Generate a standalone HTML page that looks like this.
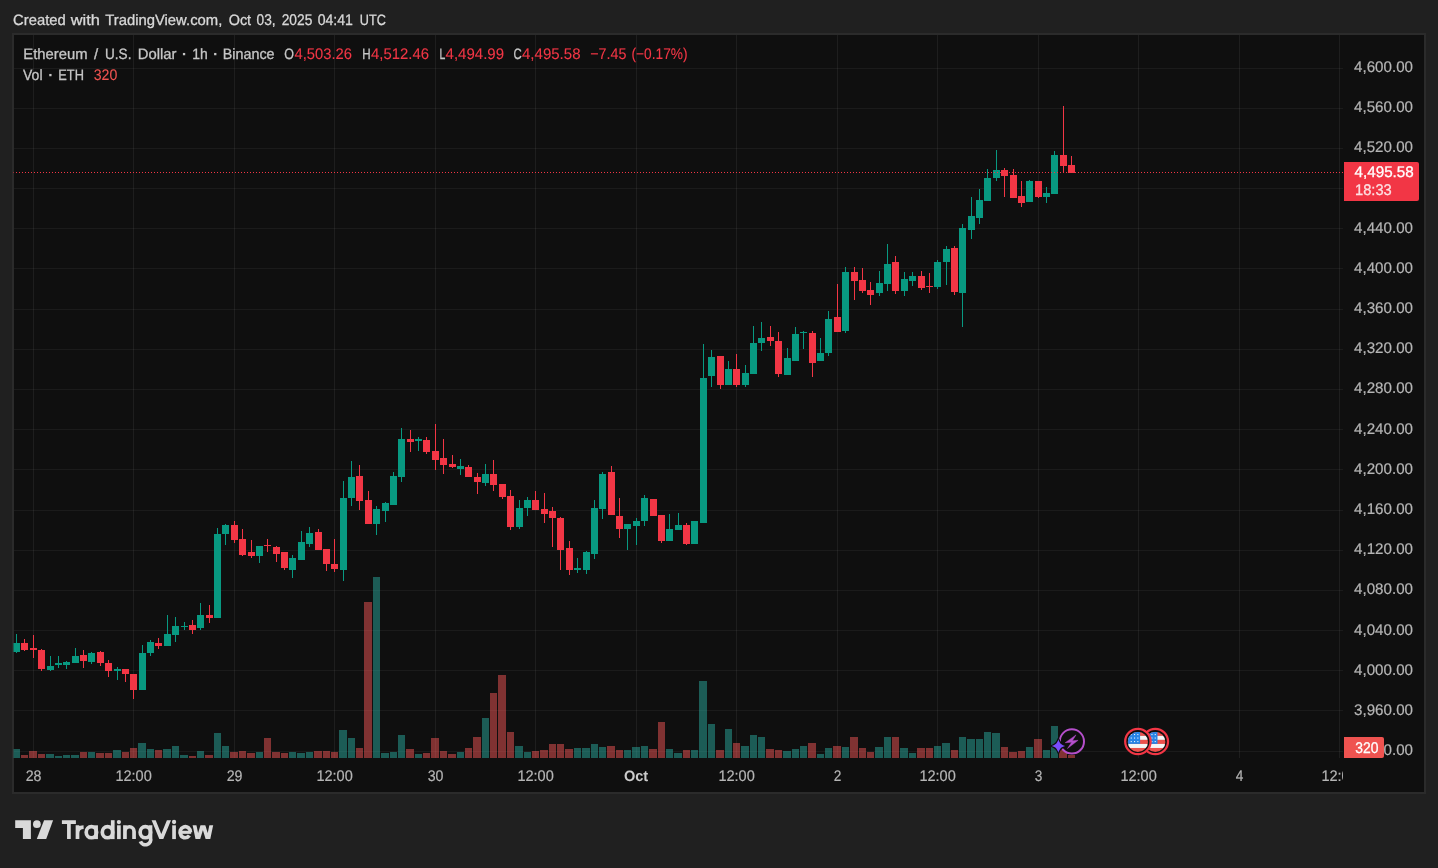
<!DOCTYPE html>
<html><head><meta charset="utf-8"><title>ETHUSD</title>
<style>html,body{margin:0;padding:0;background:#202020;overflow:hidden}svg{display:block}text{font-family:"Liberation Sans",sans-serif;font-size:15px;stroke-width:0.3px;text-rendering:geometricPrecision}</style>
</head><body>
<svg width="1438" height="868" viewBox="0 0 1438 868"><defs><filter id="ga" filterUnits="userSpaceOnUse" x="0" y="0" width="1438" height="868"><feOffset dx="0" dy="0"/></filter></defs>
<rect x="0" y="0" width="1438" height="868" fill="#202020"/>
<rect x="12" y="33" width="1414" height="761" fill="#2b2b2b"/>
<rect x="14" y="35" width="1410" height="757" fill="#0f0f0f"/>
<g shape-rendering="crispEdges">
<rect x="33" y="35" width="1" height="723" fill="rgba(255,255,255,0.063)"/>
<rect x="133" y="35" width="1" height="723" fill="rgba(255,255,255,0.063)"/>
<rect x="234" y="35" width="1" height="723" fill="rgba(255,255,255,0.063)"/>
<rect x="334" y="35" width="1" height="723" fill="rgba(255,255,255,0.063)"/>
<rect x="435" y="35" width="1" height="723" fill="rgba(255,255,255,0.063)"/>
<rect x="535" y="35" width="1" height="723" fill="rgba(255,255,255,0.063)"/>
<rect x="636" y="35" width="1" height="723" fill="rgba(255,255,255,0.063)"/>
<rect x="736" y="35" width="1" height="723" fill="rgba(255,255,255,0.063)"/>
<rect x="837" y="35" width="1" height="723" fill="rgba(255,255,255,0.063)"/>
<rect x="937" y="35" width="1" height="723" fill="rgba(255,255,255,0.063)"/>
<rect x="1038" y="35" width="1" height="723" fill="rgba(255,255,255,0.063)"/>
<rect x="1138" y="35" width="1" height="723" fill="rgba(255,255,255,0.063)"/>
<rect x="1239" y="35" width="1" height="723" fill="rgba(255,255,255,0.063)"/>
<rect x="1339" y="35" width="1" height="723" fill="rgba(255,255,255,0.063)"/>
<rect x="14" y="68" width="1329" height="1" fill="rgba(255,255,255,0.05)"/>
<rect x="14" y="108" width="1329" height="1" fill="rgba(255,255,255,0.05)"/>
<rect x="14" y="148" width="1329" height="1" fill="rgba(255,255,255,0.05)"/>
<rect x="14" y="188" width="1329" height="1" fill="rgba(255,255,255,0.05)"/>
<rect x="14" y="228" width="1329" height="1" fill="rgba(255,255,255,0.05)"/>
<rect x="14" y="268" width="1329" height="1" fill="rgba(255,255,255,0.05)"/>
<rect x="14" y="309" width="1329" height="1" fill="rgba(255,255,255,0.05)"/>
<rect x="14" y="349" width="1329" height="1" fill="rgba(255,255,255,0.05)"/>
<rect x="14" y="389" width="1329" height="1" fill="rgba(255,255,255,0.05)"/>
<rect x="14" y="429" width="1329" height="1" fill="rgba(255,255,255,0.05)"/>
<rect x="14" y="469" width="1329" height="1" fill="rgba(255,255,255,0.05)"/>
<rect x="14" y="510" width="1329" height="1" fill="rgba(255,255,255,0.05)"/>
<rect x="14" y="550" width="1329" height="1" fill="rgba(255,255,255,0.05)"/>
<rect x="14" y="590" width="1329" height="1" fill="rgba(255,255,255,0.05)"/>
<rect x="14" y="630" width="1329" height="1" fill="rgba(255,255,255,0.05)"/>
<rect x="14" y="670" width="1329" height="1" fill="rgba(255,255,255,0.05)"/>
<rect x="14" y="710" width="1329" height="1" fill="rgba(255,255,255,0.05)"/>
<rect x="14" y="751" width="1329" height="1" fill="rgba(255,255,255,0.05)"/>
</g>
<g shape-rendering="crispEdges">
<rect x="13" y="749" width="1" height="9" fill="rgba(41,169,157,0.5)" fill-opacity="0.5"/>
<rect x="14" y="749" width="6" height="9" fill="rgba(41,169,157,0.5)"/>
<rect x="21" y="755" width="7" height="3" fill="rgba(241,85,85,0.5)"/>
<rect x="29" y="751" width="8" height="7" fill="rgba(241,85,85,0.5)"/>
<rect x="38" y="754" width="7" height="4" fill="rgba(241,85,85,0.5)"/>
<rect x="46" y="754" width="8" height="4" fill="rgba(41,169,157,0.5)"/>
<rect x="55" y="756" width="7" height="2" fill="rgba(41,169,157,0.5)"/>
<rect x="63" y="755" width="7" height="3" fill="rgba(41,169,157,0.5)"/>
<rect x="71" y="755" width="8" height="3" fill="rgba(41,169,157,0.5)"/>
<rect x="80" y="752" width="7" height="6" fill="rgba(241,85,85,0.5)"/>
<rect x="88" y="752" width="7" height="6" fill="rgba(41,169,157,0.5)"/>
<rect x="96" y="753" width="8" height="5" fill="rgba(241,85,85,0.5)"/>
<rect x="105" y="753" width="7" height="5" fill="rgba(241,85,85,0.5)"/>
<rect x="113" y="750" width="8" height="8" fill="rgba(41,169,157,0.5)"/>
<rect x="122" y="752" width="7" height="6" fill="rgba(241,85,85,0.5)"/>
<rect x="130" y="748" width="7" height="10" fill="rgba(241,85,85,0.5)"/>
<rect x="138" y="743" width="8" height="15" fill="rgba(41,169,157,0.5)"/>
<rect x="147" y="749" width="7" height="9" fill="rgba(41,169,157,0.5)"/>
<rect x="155" y="750" width="7" height="8" fill="rgba(241,85,85,0.5)"/>
<rect x="163" y="749" width="8" height="9" fill="rgba(41,169,157,0.5)"/>
<rect x="172" y="746" width="7" height="12" fill="rgba(41,169,157,0.5)"/>
<rect x="180" y="755" width="8" height="3" fill="rgba(41,169,157,0.5)"/>
<rect x="189" y="756" width="7" height="2" fill="rgba(241,85,85,0.5)"/>
<rect x="197" y="751" width="7" height="7" fill="rgba(41,169,157,0.5)"/>
<rect x="205" y="755" width="8" height="3" fill="rgba(241,85,85,0.5)"/>
<rect x="214" y="733" width="7" height="25" fill="rgba(41,169,157,0.5)"/>
<rect x="222" y="746" width="7" height="12" fill="rgba(41,169,157,0.5)"/>
<rect x="230" y="752" width="8" height="6" fill="rgba(241,85,85,0.5)"/>
<rect x="239" y="751" width="7" height="7" fill="rgba(241,85,85,0.5)"/>
<rect x="247" y="753" width="8" height="5" fill="rgba(241,85,85,0.5)"/>
<rect x="256" y="752" width="7" height="6" fill="rgba(41,169,157,0.5)"/>
<rect x="264" y="738" width="7" height="20" fill="rgba(241,85,85,0.5)"/>
<rect x="272" y="752" width="8" height="6" fill="rgba(241,85,85,0.5)"/>
<rect x="281" y="753" width="7" height="5" fill="rgba(241,85,85,0.5)"/>
<rect x="289" y="752" width="7" height="6" fill="rgba(41,169,157,0.5)"/>
<rect x="297" y="753" width="8" height="5" fill="rgba(41,169,157,0.5)"/>
<rect x="306" y="752" width="7" height="6" fill="rgba(41,169,157,0.5)"/>
<rect x="314" y="751" width="8" height="7" fill="rgba(241,85,85,0.5)"/>
<rect x="323" y="751" width="7" height="7" fill="rgba(241,85,85,0.5)"/>
<rect x="331" y="752" width="7" height="6" fill="rgba(241,85,85,0.5)"/>
<rect x="339" y="730" width="8" height="28" fill="rgba(41,169,157,0.5)"/>
<rect x="348" y="738" width="7" height="20" fill="rgba(41,169,157,0.5)"/>
<rect x="356" y="748" width="7" height="10" fill="rgba(241,85,85,0.5)"/>
<rect x="364" y="602" width="8" height="156" fill="rgba(241,85,85,0.5)"/>
<rect x="373" y="577" width="7" height="181" fill="rgba(41,169,157,0.5)"/>
<rect x="381" y="753" width="8" height="5" fill="rgba(41,169,157,0.5)"/>
<rect x="390" y="752" width="7" height="6" fill="rgba(41,169,157,0.5)"/>
<rect x="398" y="735" width="7" height="23" fill="rgba(41,169,157,0.5)"/>
<rect x="406" y="749" width="8" height="9" fill="rgba(241,85,85,0.5)"/>
<rect x="415" y="754" width="7" height="4" fill="rgba(41,169,157,0.5)"/>
<rect x="423" y="753" width="7" height="5" fill="rgba(241,85,85,0.5)"/>
<rect x="431" y="738" width="8" height="20" fill="rgba(241,85,85,0.5)"/>
<rect x="440" y="751" width="7" height="7" fill="rgba(241,85,85,0.5)"/>
<rect x="448" y="754" width="8" height="4" fill="rgba(241,85,85,0.5)"/>
<rect x="457" y="752" width="7" height="6" fill="rgba(41,169,157,0.5)"/>
<rect x="465" y="748" width="7" height="10" fill="rgba(241,85,85,0.5)"/>
<rect x="473" y="737" width="8" height="21" fill="rgba(241,85,85,0.5)"/>
<rect x="482" y="718" width="7" height="40" fill="rgba(41,169,157,0.5)"/>
<rect x="490" y="693" width="7" height="65" fill="rgba(241,85,85,0.5)"/>
<rect x="498" y="675" width="8" height="83" fill="rgba(241,85,85,0.5)"/>
<rect x="507" y="732" width="7" height="26" fill="rgba(241,85,85,0.5)"/>
<rect x="515" y="746" width="8" height="12" fill="rgba(41,169,157,0.5)"/>
<rect x="524" y="752" width="7" height="6" fill="rgba(41,169,157,0.5)"/>
<rect x="532" y="751" width="7" height="7" fill="rgba(241,85,85,0.5)"/>
<rect x="540" y="750" width="8" height="8" fill="rgba(241,85,85,0.5)"/>
<rect x="549" y="744" width="7" height="14" fill="rgba(241,85,85,0.5)"/>
<rect x="557" y="744" width="7" height="14" fill="rgba(241,85,85,0.5)"/>
<rect x="565" y="749" width="8" height="9" fill="rgba(241,85,85,0.5)"/>
<rect x="574" y="748" width="7" height="10" fill="rgba(41,169,157,0.5)"/>
<rect x="582" y="748" width="8" height="10" fill="rgba(41,169,157,0.5)"/>
<rect x="591" y="744" width="7" height="14" fill="rgba(41,169,157,0.5)"/>
<rect x="599" y="747" width="7" height="11" fill="rgba(41,169,157,0.5)"/>
<rect x="607" y="746" width="8" height="12" fill="rgba(241,85,85,0.5)"/>
<rect x="616" y="750" width="7" height="8" fill="rgba(241,85,85,0.5)"/>
<rect x="624" y="750" width="7" height="8" fill="rgba(41,169,157,0.5)"/>
<rect x="632" y="747" width="8" height="11" fill="rgba(41,169,157,0.5)"/>
<rect x="641" y="746" width="7" height="12" fill="rgba(41,169,157,0.5)"/>
<rect x="649" y="749" width="8" height="9" fill="rgba(241,85,85,0.5)"/>
<rect x="658" y="722" width="7" height="36" fill="rgba(241,85,85,0.5)"/>
<rect x="666" y="749" width="7" height="9" fill="rgba(41,169,157,0.5)"/>
<rect x="674" y="753" width="8" height="5" fill="rgba(41,169,157,0.5)"/>
<rect x="683" y="750" width="7" height="8" fill="rgba(241,85,85,0.5)"/>
<rect x="691" y="750" width="7" height="8" fill="rgba(41,169,157,0.5)"/>
<rect x="699" y="681" width="8" height="77" fill="rgba(41,169,157,0.5)"/>
<rect x="708" y="724" width="7" height="34" fill="rgba(41,169,157,0.5)"/>
<rect x="716" y="750" width="8" height="8" fill="rgba(241,85,85,0.5)"/>
<rect x="725" y="729" width="7" height="29" fill="rgba(41,169,157,0.5)"/>
<rect x="733" y="743" width="7" height="15" fill="rgba(241,85,85,0.5)"/>
<rect x="741" y="746" width="8" height="12" fill="rgba(41,169,157,0.5)"/>
<rect x="750" y="735" width="7" height="23" fill="rgba(41,169,157,0.5)"/>
<rect x="758" y="737" width="7" height="21" fill="rgba(41,169,157,0.5)"/>
<rect x="766" y="749" width="8" height="9" fill="rgba(241,85,85,0.5)"/>
<rect x="775" y="750" width="7" height="8" fill="rgba(241,85,85,0.5)"/>
<rect x="783" y="751" width="8" height="7" fill="rgba(41,169,157,0.5)"/>
<rect x="792" y="749" width="7" height="9" fill="rgba(41,169,157,0.5)"/>
<rect x="800" y="746" width="7" height="12" fill="rgba(41,169,157,0.5)"/>
<rect x="808" y="743" width="8" height="15" fill="rgba(241,85,85,0.5)"/>
<rect x="817" y="754" width="7" height="4" fill="rgba(41,169,157,0.5)"/>
<rect x="825" y="748" width="7" height="10" fill="rgba(41,169,157,0.5)"/>
<rect x="833" y="746" width="8" height="12" fill="rgba(241,85,85,0.5)"/>
<rect x="842" y="747" width="7" height="11" fill="rgba(41,169,157,0.5)"/>
<rect x="850" y="737" width="8" height="21" fill="rgba(241,85,85,0.5)"/>
<rect x="859" y="748" width="7" height="10" fill="rgba(241,85,85,0.5)"/>
<rect x="867" y="752" width="7" height="6" fill="rgba(241,85,85,0.5)"/>
<rect x="875" y="747" width="8" height="11" fill="rgba(41,169,157,0.5)"/>
<rect x="884" y="737" width="7" height="21" fill="rgba(41,169,157,0.5)"/>
<rect x="892" y="737" width="7" height="21" fill="rgba(241,85,85,0.5)"/>
<rect x="900" y="748" width="8" height="10" fill="rgba(41,169,157,0.5)"/>
<rect x="909" y="753" width="7" height="5" fill="rgba(41,169,157,0.5)"/>
<rect x="917" y="748" width="8" height="10" fill="rgba(241,85,85,0.5)"/>
<rect x="926" y="748" width="7" height="10" fill="rgba(241,85,85,0.5)"/>
<rect x="934" y="746" width="7" height="12" fill="rgba(41,169,157,0.5)"/>
<rect x="942" y="743" width="8" height="15" fill="rgba(41,169,157,0.5)"/>
<rect x="951" y="750" width="7" height="8" fill="rgba(241,85,85,0.5)"/>
<rect x="959" y="737" width="7" height="21" fill="rgba(41,169,157,0.5)"/>
<rect x="967" y="739" width="8" height="19" fill="rgba(41,169,157,0.5)"/>
<rect x="976" y="739" width="7" height="19" fill="rgba(41,169,157,0.5)"/>
<rect x="984" y="732" width="7" height="26" fill="rgba(41,169,157,0.5)"/>
<rect x="992" y="733" width="8" height="25" fill="rgba(41,169,157,0.5)"/>
<rect x="1001" y="747" width="7" height="11" fill="rgba(241,85,85,0.5)"/>
<rect x="1009" y="752" width="8" height="6" fill="rgba(241,85,85,0.5)"/>
<rect x="1018" y="751" width="7" height="7" fill="rgba(241,85,85,0.5)"/>
<rect x="1026" y="747" width="7" height="11" fill="rgba(41,169,157,0.5)"/>
<rect x="1034" y="739" width="8" height="19" fill="rgba(241,85,85,0.5)"/>
<rect x="1043" y="750" width="7" height="8" fill="rgba(41,169,157,0.5)"/>
<rect x="1051" y="726" width="7" height="32" fill="rgba(41,169,157,0.5)"/>
<rect x="1059" y="750" width="8" height="8" fill="rgba(241,85,85,0.5)"/>
<rect x="1068" y="755" width="7" height="3" fill="rgba(241,85,85,0.5)"/>
</g>
<g shape-rendering="crispEdges">
<rect x="16" y="634" width="1" height="19" fill="#089981"/>
<rect x="13" y="643" width="1" height="9" fill="#089981" fill-opacity="0.5"/>
<rect x="14" y="643" width="6" height="9" fill="#089981"/>
<rect x="24" y="639" width="1" height="12" fill="#f23645"/>
<rect x="21" y="643" width="7" height="7" fill="#f23645"/>
<rect x="33" y="635" width="1" height="23" fill="#f23645"/>
<rect x="30" y="648" width="7" height="2" fill="#f23645"/>
<rect x="41" y="649" width="1" height="22" fill="#f23645"/>
<rect x="38" y="650" width="7" height="19" fill="#f23645"/>
<rect x="50" y="656" width="1" height="15" fill="#089981"/>
<rect x="47" y="666" width="7" height="4" fill="#089981"/>
<rect x="58" y="656" width="1" height="12" fill="#089981"/>
<rect x="55" y="663" width="7" height="2" fill="#089981"/>
<rect x="66" y="661" width="1" height="8" fill="#089981"/>
<rect x="63" y="662" width="7" height="3" fill="#089981"/>
<rect x="75" y="648" width="1" height="15" fill="#089981"/>
<rect x="72" y="656" width="7" height="7" fill="#089981"/>
<rect x="83" y="650" width="1" height="18" fill="#f23645"/>
<rect x="80" y="655" width="7" height="6" fill="#f23645"/>
<rect x="91" y="652" width="1" height="12" fill="#089981"/>
<rect x="88" y="653" width="7" height="9" fill="#089981"/>
<rect x="100" y="651" width="1" height="15" fill="#f23645"/>
<rect x="97" y="652" width="7" height="11" fill="#f23645"/>
<rect x="108" y="660" width="1" height="17" fill="#f23645"/>
<rect x="105" y="663" width="7" height="8" fill="#f23645"/>
<rect x="117" y="667" width="1" height="13" fill="#089981"/>
<rect x="114" y="669" width="7" height="2" fill="#089981"/>
<rect x="125" y="669" width="1" height="13" fill="#f23645"/>
<rect x="122" y="669" width="7" height="5" fill="#f23645"/>
<rect x="133" y="674" width="1" height="25" fill="#f23645"/>
<rect x="130" y="674" width="7" height="16" fill="#f23645"/>
<rect x="142" y="645" width="1" height="45" fill="#089981"/>
<rect x="139" y="653" width="7" height="37" fill="#089981"/>
<rect x="150" y="640" width="1" height="16" fill="#089981"/>
<rect x="147" y="642" width="7" height="11" fill="#089981"/>
<rect x="158" y="638" width="1" height="11" fill="#f23645"/>
<rect x="155" y="643" width="7" height="3" fill="#f23645"/>
<rect x="167" y="615" width="1" height="31" fill="#089981"/>
<rect x="164" y="634" width="7" height="12" fill="#089981"/>
<rect x="175" y="617" width="1" height="25" fill="#089981"/>
<rect x="172" y="626" width="7" height="9" fill="#089981"/>
<rect x="184" y="622" width="1" height="8" fill="#089981"/>
<rect x="181" y="626" width="7" height="1" fill="#089981"/>
<rect x="192" y="620" width="1" height="14" fill="#f23645"/>
<rect x="189" y="625" width="7" height="5" fill="#f23645"/>
<rect x="200" y="603" width="1" height="27" fill="#089981"/>
<rect x="197" y="615" width="7" height="13" fill="#089981"/>
<rect x="209" y="605" width="1" height="18" fill="#f23645"/>
<rect x="206" y="615" width="7" height="3" fill="#f23645"/>
<rect x="217" y="528" width="1" height="90" fill="#089981"/>
<rect x="214" y="534" width="7" height="84" fill="#089981"/>
<rect x="225" y="524" width="1" height="21" fill="#089981"/>
<rect x="222" y="525" width="7" height="9" fill="#089981"/>
<rect x="234" y="521" width="1" height="22" fill="#f23645"/>
<rect x="231" y="525" width="7" height="15" fill="#f23645"/>
<rect x="242" y="529" width="1" height="27" fill="#f23645"/>
<rect x="239" y="539" width="7" height="16" fill="#f23645"/>
<rect x="251" y="540" width="1" height="18" fill="#f23645"/>
<rect x="248" y="552" width="7" height="4" fill="#f23645"/>
<rect x="259" y="546" width="1" height="17" fill="#089981"/>
<rect x="256" y="546" width="7" height="10" fill="#089981"/>
<rect x="267" y="539" width="1" height="13" fill="#f23645"/>
<rect x="264" y="545" width="7" height="1" fill="#f23645"/>
<rect x="276" y="546" width="1" height="16" fill="#f23645"/>
<rect x="273" y="547" width="7" height="7" fill="#f23645"/>
<rect x="284" y="552" width="1" height="18" fill="#f23645"/>
<rect x="281" y="552" width="7" height="16" fill="#f23645"/>
<rect x="292" y="555" width="1" height="23" fill="#089981"/>
<rect x="289" y="558" width="7" height="12" fill="#089981"/>
<rect x="301" y="531" width="1" height="29" fill="#089981"/>
<rect x="298" y="542" width="7" height="18" fill="#089981"/>
<rect x="309" y="527" width="1" height="20" fill="#089981"/>
<rect x="306" y="533" width="7" height="11" fill="#089981"/>
<rect x="318" y="529" width="1" height="21" fill="#f23645"/>
<rect x="315" y="532" width="7" height="18" fill="#f23645"/>
<rect x="326" y="549" width="1" height="22" fill="#f23645"/>
<rect x="323" y="549" width="7" height="15" fill="#f23645"/>
<rect x="334" y="539" width="1" height="33" fill="#f23645"/>
<rect x="331" y="564" width="7" height="5" fill="#f23645"/>
<rect x="343" y="481" width="1" height="100" fill="#089981"/>
<rect x="340" y="498" width="7" height="72" fill="#089981"/>
<rect x="351" y="461" width="1" height="45" fill="#089981"/>
<rect x="348" y="477" width="7" height="21" fill="#089981"/>
<rect x="359" y="465" width="1" height="45" fill="#f23645"/>
<rect x="356" y="476" width="7" height="25" fill="#f23645"/>
<rect x="368" y="491" width="1" height="33" fill="#f23645"/>
<rect x="365" y="500" width="7" height="24" fill="#f23645"/>
<rect x="376" y="506" width="1" height="29" fill="#089981"/>
<rect x="373" y="509" width="7" height="15" fill="#089981"/>
<rect x="385" y="502" width="1" height="20" fill="#089981"/>
<rect x="382" y="503" width="7" height="8" fill="#089981"/>
<rect x="393" y="472" width="1" height="33" fill="#089981"/>
<rect x="390" y="476" width="7" height="29" fill="#089981"/>
<rect x="401" y="428" width="1" height="54" fill="#089981"/>
<rect x="398" y="439" width="7" height="38" fill="#089981"/>
<rect x="410" y="430" width="1" height="22" fill="#f23645"/>
<rect x="407" y="439" width="7" height="3" fill="#f23645"/>
<rect x="418" y="437" width="1" height="14" fill="#089981"/>
<rect x="415" y="439" width="7" height="2" fill="#089981"/>
<rect x="426" y="437" width="1" height="17" fill="#f23645"/>
<rect x="423" y="440" width="7" height="12" fill="#f23645"/>
<rect x="435" y="424" width="1" height="46" fill="#f23645"/>
<rect x="432" y="451" width="7" height="9" fill="#f23645"/>
<rect x="443" y="439" width="1" height="35" fill="#f23645"/>
<rect x="440" y="458" width="7" height="7" fill="#f23645"/>
<rect x="452" y="455" width="1" height="13" fill="#f23645"/>
<rect x="449" y="464" width="7" height="3" fill="#f23645"/>
<rect x="460" y="459" width="1" height="16" fill="#089981"/>
<rect x="457" y="466" width="7" height="3" fill="#089981"/>
<rect x="468" y="465" width="1" height="12" fill="#f23645"/>
<rect x="465" y="467" width="7" height="10" fill="#f23645"/>
<rect x="477" y="473" width="1" height="21" fill="#f23645"/>
<rect x="474" y="477" width="7" height="5" fill="#f23645"/>
<rect x="485" y="464" width="1" height="22" fill="#089981"/>
<rect x="482" y="474" width="7" height="9" fill="#089981"/>
<rect x="493" y="460" width="1" height="31" fill="#f23645"/>
<rect x="490" y="474" width="7" height="11" fill="#f23645"/>
<rect x="502" y="484" width="1" height="15" fill="#f23645"/>
<rect x="499" y="484" width="7" height="13" fill="#f23645"/>
<rect x="510" y="490" width="1" height="40" fill="#f23645"/>
<rect x="507" y="496" width="7" height="31" fill="#f23645"/>
<rect x="519" y="500" width="1" height="29" fill="#089981"/>
<rect x="516" y="508" width="7" height="19" fill="#089981"/>
<rect x="527" y="497" width="1" height="19" fill="#089981"/>
<rect x="524" y="500" width="7" height="8" fill="#089981"/>
<rect x="535" y="491" width="1" height="19" fill="#f23645"/>
<rect x="532" y="500" width="7" height="10" fill="#f23645"/>
<rect x="544" y="493" width="1" height="30" fill="#f23645"/>
<rect x="541" y="509" width="7" height="5" fill="#f23645"/>
<rect x="552" y="507" width="1" height="40" fill="#f23645"/>
<rect x="549" y="511" width="7" height="7" fill="#f23645"/>
<rect x="560" y="517" width="1" height="53" fill="#f23645"/>
<rect x="557" y="518" width="7" height="32" fill="#f23645"/>
<rect x="569" y="541" width="1" height="34" fill="#f23645"/>
<rect x="566" y="548" width="7" height="22" fill="#f23645"/>
<rect x="577" y="558" width="1" height="15" fill="#089981"/>
<rect x="574" y="568" width="7" height="2" fill="#089981"/>
<rect x="586" y="551" width="1" height="23" fill="#089981"/>
<rect x="583" y="552" width="7" height="18" fill="#089981"/>
<rect x="594" y="500" width="1" height="59" fill="#089981"/>
<rect x="591" y="508" width="7" height="46" fill="#089981"/>
<rect x="602" y="472" width="1" height="47" fill="#089981"/>
<rect x="599" y="474" width="7" height="35" fill="#089981"/>
<rect x="611" y="466" width="1" height="49" fill="#f23645"/>
<rect x="608" y="472" width="7" height="43" fill="#f23645"/>
<rect x="619" y="498" width="1" height="40" fill="#f23645"/>
<rect x="616" y="516" width="7" height="13" fill="#f23645"/>
<rect x="627" y="524" width="1" height="26" fill="#089981"/>
<rect x="624" y="524" width="7" height="5" fill="#089981"/>
<rect x="636" y="518" width="1" height="27" fill="#089981"/>
<rect x="633" y="521" width="7" height="5" fill="#089981"/>
<rect x="644" y="495" width="1" height="31" fill="#089981"/>
<rect x="641" y="498" width="7" height="23" fill="#089981"/>
<rect x="653" y="499" width="1" height="17" fill="#f23645"/>
<rect x="650" y="499" width="7" height="17" fill="#f23645"/>
<rect x="661" y="515" width="1" height="28" fill="#f23645"/>
<rect x="658" y="515" width="7" height="26" fill="#f23645"/>
<rect x="669" y="514" width="1" height="27" fill="#089981"/>
<rect x="666" y="529" width="7" height="12" fill="#089981"/>
<rect x="678" y="513" width="1" height="17" fill="#089981"/>
<rect x="675" y="525" width="7" height="5" fill="#089981"/>
<rect x="686" y="523" width="1" height="22" fill="#f23645"/>
<rect x="683" y="525" width="7" height="19" fill="#f23645"/>
<rect x="694" y="521" width="1" height="23" fill="#089981"/>
<rect x="691" y="521" width="7" height="23" fill="#089981"/>
<rect x="703" y="344" width="1" height="179" fill="#089981"/>
<rect x="700" y="378" width="7" height="145" fill="#089981"/>
<rect x="711" y="350" width="1" height="37" fill="#089981"/>
<rect x="708" y="357" width="7" height="19" fill="#089981"/>
<rect x="720" y="356" width="1" height="33" fill="#f23645"/>
<rect x="717" y="356" width="7" height="29" fill="#f23645"/>
<rect x="728" y="361" width="1" height="24" fill="#089981"/>
<rect x="725" y="369" width="7" height="16" fill="#089981"/>
<rect x="736" y="354" width="1" height="33" fill="#f23645"/>
<rect x="733" y="369" width="7" height="16" fill="#f23645"/>
<rect x="745" y="365" width="1" height="22" fill="#089981"/>
<rect x="742" y="373" width="7" height="12" fill="#089981"/>
<rect x="753" y="326" width="1" height="48" fill="#089981"/>
<rect x="750" y="343" width="7" height="31" fill="#089981"/>
<rect x="761" y="322" width="1" height="29" fill="#089981"/>
<rect x="758" y="338" width="7" height="5" fill="#089981"/>
<rect x="770" y="326" width="1" height="20" fill="#f23645"/>
<rect x="767" y="337" width="7" height="4" fill="#f23645"/>
<rect x="778" y="332" width="1" height="45" fill="#f23645"/>
<rect x="775" y="341" width="7" height="33" fill="#f23645"/>
<rect x="787" y="348" width="1" height="27" fill="#089981"/>
<rect x="784" y="358" width="7" height="17" fill="#089981"/>
<rect x="795" y="327" width="1" height="34" fill="#089981"/>
<rect x="792" y="334" width="7" height="27" fill="#089981"/>
<rect x="803" y="331" width="1" height="18" fill="#089981"/>
<rect x="800" y="332" width="7" height="1" fill="#089981"/>
<rect x="812" y="331" width="1" height="46" fill="#f23645"/>
<rect x="809" y="333" width="7" height="30" fill="#f23645"/>
<rect x="820" y="338" width="1" height="23" fill="#089981"/>
<rect x="817" y="353" width="7" height="8" fill="#089981"/>
<rect x="828" y="311" width="1" height="45" fill="#089981"/>
<rect x="825" y="319" width="7" height="34" fill="#089981"/>
<rect x="837" y="284" width="1" height="48" fill="#f23645"/>
<rect x="834" y="317" width="7" height="15" fill="#f23645"/>
<rect x="845" y="267" width="1" height="66" fill="#089981"/>
<rect x="842" y="272" width="7" height="59" fill="#089981"/>
<rect x="854" y="267" width="1" height="33" fill="#f23645"/>
<rect x="851" y="272" width="7" height="9" fill="#f23645"/>
<rect x="862" y="268" width="1" height="25" fill="#f23645"/>
<rect x="859" y="280" width="7" height="11" fill="#f23645"/>
<rect x="870" y="282" width="1" height="23" fill="#f23645"/>
<rect x="867" y="290" width="7" height="5" fill="#f23645"/>
<rect x="879" y="271" width="1" height="25" fill="#089981"/>
<rect x="876" y="283" width="7" height="10" fill="#089981"/>
<rect x="887" y="244" width="1" height="47" fill="#089981"/>
<rect x="884" y="264" width="7" height="20" fill="#089981"/>
<rect x="895" y="256" width="1" height="38" fill="#f23645"/>
<rect x="892" y="262" width="7" height="29" fill="#f23645"/>
<rect x="904" y="272" width="1" height="24" fill="#089981"/>
<rect x="901" y="279" width="7" height="12" fill="#089981"/>
<rect x="912" y="272" width="1" height="14" fill="#089981"/>
<rect x="909" y="276" width="7" height="5" fill="#089981"/>
<rect x="921" y="271" width="1" height="19" fill="#f23645"/>
<rect x="918" y="276" width="7" height="12" fill="#f23645"/>
<rect x="929" y="273" width="1" height="20" fill="#f23645"/>
<rect x="926" y="286" width="7" height="1" fill="#f23645"/>
<rect x="937" y="260" width="1" height="29" fill="#089981"/>
<rect x="934" y="262" width="7" height="25" fill="#089981"/>
<rect x="946" y="246" width="1" height="39" fill="#089981"/>
<rect x="943" y="249" width="7" height="13" fill="#089981"/>
<rect x="954" y="246" width="1" height="49" fill="#f23645"/>
<rect x="951" y="248" width="7" height="44" fill="#f23645"/>
<rect x="962" y="224" width="1" height="103" fill="#089981"/>
<rect x="959" y="228" width="7" height="65" fill="#089981"/>
<rect x="971" y="197" width="1" height="42" fill="#089981"/>
<rect x="968" y="216" width="7" height="14" fill="#089981"/>
<rect x="979" y="189" width="1" height="35" fill="#089981"/>
<rect x="976" y="200" width="7" height="18" fill="#089981"/>
<rect x="987" y="169" width="1" height="32" fill="#089981"/>
<rect x="984" y="178" width="7" height="23" fill="#089981"/>
<rect x="996" y="150" width="1" height="31" fill="#089981"/>
<rect x="993" y="170" width="7" height="8" fill="#089981"/>
<rect x="1004" y="168" width="1" height="29" fill="#f23645"/>
<rect x="1001" y="170" width="7" height="6" fill="#f23645"/>
<rect x="1013" y="169" width="1" height="29" fill="#f23645"/>
<rect x="1010" y="175" width="7" height="23" fill="#f23645"/>
<rect x="1021" y="181" width="1" height="26" fill="#f23645"/>
<rect x="1018" y="196" width="7" height="7" fill="#f23645"/>
<rect x="1029" y="180" width="1" height="22" fill="#089981"/>
<rect x="1026" y="181" width="7" height="21" fill="#089981"/>
<rect x="1038" y="181" width="1" height="17" fill="#f23645"/>
<rect x="1035" y="181" width="7" height="16" fill="#f23645"/>
<rect x="1046" y="187" width="1" height="16" fill="#089981"/>
<rect x="1043" y="193" width="7" height="4" fill="#089981"/>
<rect x="1054" y="151" width="1" height="43" fill="#089981"/>
<rect x="1051" y="155" width="7" height="39" fill="#089981"/>
<rect x="1063" y="106" width="1" height="67" fill="#f23645"/>
<rect x="1060" y="155" width="7" height="11" fill="#f23645"/>
<rect x="1071" y="156" width="1" height="17" fill="#f23645"/>
<rect x="1068" y="165" width="7" height="8" fill="#f23645"/>
</g>
<g shape-rendering="crispEdges" fill="#f23645">
<path d="M16 172h1v1h-1zM19 172h1v1h-1zM22 172h1v1h-1zM25 172h1v1h-1zM28 172h1v1h-1zM31 172h1v1h-1zM34 172h1v1h-1zM37 172h1v1h-1zM40 172h1v1h-1zM43 172h1v1h-1zM46 172h1v1h-1zM49 172h1v1h-1zM52 172h1v1h-1zM55 172h1v1h-1zM58 172h1v1h-1zM61 172h1v1h-1zM64 172h1v1h-1zM67 172h1v1h-1zM70 172h1v1h-1zM73 172h1v1h-1zM76 172h1v1h-1zM79 172h1v1h-1zM82 172h1v1h-1zM85 172h1v1h-1zM88 172h1v1h-1zM91 172h1v1h-1zM94 172h1v1h-1zM97 172h1v1h-1zM100 172h1v1h-1zM103 172h1v1h-1zM106 172h1v1h-1zM109 172h1v1h-1zM112 172h1v1h-1zM115 172h1v1h-1zM118 172h1v1h-1zM121 172h1v1h-1zM124 172h1v1h-1zM127 172h1v1h-1zM130 172h1v1h-1zM133 172h1v1h-1zM136 172h1v1h-1zM139 172h1v1h-1zM142 172h1v1h-1zM145 172h1v1h-1zM148 172h1v1h-1zM151 172h1v1h-1zM154 172h1v1h-1zM157 172h1v1h-1zM160 172h1v1h-1zM163 172h1v1h-1zM166 172h1v1h-1zM169 172h1v1h-1zM172 172h1v1h-1zM175 172h1v1h-1zM178 172h1v1h-1zM181 172h1v1h-1zM184 172h1v1h-1zM187 172h1v1h-1zM190 172h1v1h-1zM193 172h1v1h-1zM196 172h1v1h-1zM199 172h1v1h-1zM202 172h1v1h-1zM205 172h1v1h-1zM208 172h1v1h-1zM211 172h1v1h-1zM214 172h1v1h-1zM217 172h1v1h-1zM220 172h1v1h-1zM223 172h1v1h-1zM226 172h1v1h-1zM229 172h1v1h-1zM232 172h1v1h-1zM235 172h1v1h-1zM238 172h1v1h-1zM241 172h1v1h-1zM244 172h1v1h-1zM247 172h1v1h-1zM250 172h1v1h-1zM253 172h1v1h-1zM256 172h1v1h-1zM259 172h1v1h-1zM262 172h1v1h-1zM265 172h1v1h-1zM268 172h1v1h-1zM271 172h1v1h-1zM274 172h1v1h-1zM277 172h1v1h-1zM280 172h1v1h-1zM283 172h1v1h-1zM286 172h1v1h-1zM289 172h1v1h-1zM292 172h1v1h-1zM295 172h1v1h-1zM298 172h1v1h-1zM301 172h1v1h-1zM304 172h1v1h-1zM307 172h1v1h-1zM310 172h1v1h-1zM313 172h1v1h-1zM316 172h1v1h-1zM319 172h1v1h-1zM322 172h1v1h-1zM325 172h1v1h-1zM328 172h1v1h-1zM331 172h1v1h-1zM334 172h1v1h-1zM337 172h1v1h-1zM340 172h1v1h-1zM343 172h1v1h-1zM346 172h1v1h-1zM349 172h1v1h-1zM352 172h1v1h-1zM355 172h1v1h-1zM358 172h1v1h-1zM361 172h1v1h-1zM364 172h1v1h-1zM367 172h1v1h-1zM370 172h1v1h-1zM373 172h1v1h-1zM376 172h1v1h-1zM379 172h1v1h-1zM382 172h1v1h-1zM385 172h1v1h-1zM388 172h1v1h-1zM391 172h1v1h-1zM394 172h1v1h-1zM397 172h1v1h-1zM400 172h1v1h-1zM403 172h1v1h-1zM406 172h1v1h-1zM409 172h1v1h-1zM412 172h1v1h-1zM415 172h1v1h-1zM418 172h1v1h-1zM421 172h1v1h-1zM424 172h1v1h-1zM427 172h1v1h-1zM430 172h1v1h-1zM433 172h1v1h-1zM436 172h1v1h-1zM439 172h1v1h-1zM442 172h1v1h-1zM445 172h1v1h-1zM448 172h1v1h-1zM451 172h1v1h-1zM454 172h1v1h-1zM457 172h1v1h-1zM460 172h1v1h-1zM463 172h1v1h-1zM466 172h1v1h-1zM469 172h1v1h-1zM472 172h1v1h-1zM475 172h1v1h-1zM478 172h1v1h-1zM481 172h1v1h-1zM484 172h1v1h-1zM487 172h1v1h-1zM490 172h1v1h-1zM493 172h1v1h-1zM496 172h1v1h-1zM499 172h1v1h-1zM502 172h1v1h-1zM505 172h1v1h-1zM508 172h1v1h-1zM511 172h1v1h-1zM514 172h1v1h-1zM517 172h1v1h-1zM520 172h1v1h-1zM523 172h1v1h-1zM526 172h1v1h-1zM529 172h1v1h-1zM532 172h1v1h-1zM535 172h1v1h-1zM538 172h1v1h-1zM541 172h1v1h-1zM544 172h1v1h-1zM547 172h1v1h-1zM550 172h1v1h-1zM553 172h1v1h-1zM556 172h1v1h-1zM559 172h1v1h-1zM562 172h1v1h-1zM565 172h1v1h-1zM568 172h1v1h-1zM571 172h1v1h-1zM574 172h1v1h-1zM577 172h1v1h-1zM580 172h1v1h-1zM583 172h1v1h-1zM586 172h1v1h-1zM589 172h1v1h-1zM592 172h1v1h-1zM595 172h1v1h-1zM598 172h1v1h-1zM601 172h1v1h-1zM604 172h1v1h-1zM607 172h1v1h-1zM610 172h1v1h-1zM613 172h1v1h-1zM616 172h1v1h-1zM619 172h1v1h-1zM622 172h1v1h-1zM625 172h1v1h-1zM628 172h1v1h-1zM631 172h1v1h-1zM634 172h1v1h-1zM637 172h1v1h-1zM640 172h1v1h-1zM643 172h1v1h-1zM646 172h1v1h-1zM649 172h1v1h-1zM652 172h1v1h-1zM655 172h1v1h-1zM658 172h1v1h-1zM661 172h1v1h-1zM664 172h1v1h-1zM667 172h1v1h-1zM670 172h1v1h-1zM673 172h1v1h-1zM676 172h1v1h-1zM679 172h1v1h-1zM682 172h1v1h-1zM685 172h1v1h-1zM688 172h1v1h-1zM691 172h1v1h-1zM694 172h1v1h-1zM697 172h1v1h-1zM700 172h1v1h-1zM703 172h1v1h-1zM706 172h1v1h-1zM709 172h1v1h-1zM712 172h1v1h-1zM715 172h1v1h-1zM718 172h1v1h-1zM721 172h1v1h-1zM724 172h1v1h-1zM727 172h1v1h-1zM730 172h1v1h-1zM733 172h1v1h-1zM736 172h1v1h-1zM739 172h1v1h-1zM742 172h1v1h-1zM745 172h1v1h-1zM748 172h1v1h-1zM751 172h1v1h-1zM754 172h1v1h-1zM757 172h1v1h-1zM760 172h1v1h-1zM763 172h1v1h-1zM766 172h1v1h-1zM769 172h1v1h-1zM772 172h1v1h-1zM775 172h1v1h-1zM778 172h1v1h-1zM781 172h1v1h-1zM784 172h1v1h-1zM787 172h1v1h-1zM790 172h1v1h-1zM793 172h1v1h-1zM796 172h1v1h-1zM799 172h1v1h-1zM802 172h1v1h-1zM805 172h1v1h-1zM808 172h1v1h-1zM811 172h1v1h-1zM814 172h1v1h-1zM817 172h1v1h-1zM820 172h1v1h-1zM823 172h1v1h-1zM826 172h1v1h-1zM829 172h1v1h-1zM832 172h1v1h-1zM835 172h1v1h-1zM838 172h1v1h-1zM841 172h1v1h-1zM844 172h1v1h-1zM847 172h1v1h-1zM850 172h1v1h-1zM853 172h1v1h-1zM856 172h1v1h-1zM859 172h1v1h-1zM862 172h1v1h-1zM865 172h1v1h-1zM868 172h1v1h-1zM871 172h1v1h-1zM874 172h1v1h-1zM877 172h1v1h-1zM880 172h1v1h-1zM883 172h1v1h-1zM886 172h1v1h-1zM889 172h1v1h-1zM892 172h1v1h-1zM895 172h1v1h-1zM898 172h1v1h-1zM901 172h1v1h-1zM904 172h1v1h-1zM907 172h1v1h-1zM910 172h1v1h-1zM913 172h1v1h-1zM916 172h1v1h-1zM919 172h1v1h-1zM922 172h1v1h-1zM925 172h1v1h-1zM928 172h1v1h-1zM931 172h1v1h-1zM934 172h1v1h-1zM937 172h1v1h-1zM940 172h1v1h-1zM943 172h1v1h-1zM946 172h1v1h-1zM949 172h1v1h-1zM952 172h1v1h-1zM955 172h1v1h-1zM958 172h1v1h-1zM961 172h1v1h-1zM964 172h1v1h-1zM967 172h1v1h-1zM970 172h1v1h-1zM973 172h1v1h-1zM976 172h1v1h-1zM979 172h1v1h-1zM982 172h1v1h-1zM985 172h1v1h-1zM988 172h1v1h-1zM991 172h1v1h-1zM994 172h1v1h-1zM997 172h1v1h-1zM1000 172h1v1h-1zM1003 172h1v1h-1zM1006 172h1v1h-1zM1009 172h1v1h-1zM1012 172h1v1h-1zM1015 172h1v1h-1zM1018 172h1v1h-1zM1021 172h1v1h-1zM1024 172h1v1h-1zM1027 172h1v1h-1zM1030 172h1v1h-1zM1033 172h1v1h-1zM1036 172h1v1h-1zM1039 172h1v1h-1zM1042 172h1v1h-1zM1045 172h1v1h-1zM1048 172h1v1h-1zM1051 172h1v1h-1zM1054 172h1v1h-1zM1057 172h1v1h-1zM1060 172h1v1h-1zM1063 172h1v1h-1zM1066 172h1v1h-1zM1069 172h1v1h-1zM1072 172h1v1h-1zM1075 172h1v1h-1zM1078 172h1v1h-1zM1081 172h1v1h-1zM1084 172h1v1h-1zM1087 172h1v1h-1zM1090 172h1v1h-1zM1093 172h1v1h-1zM1096 172h1v1h-1zM1099 172h1v1h-1zM1102 172h1v1h-1zM1105 172h1v1h-1zM1108 172h1v1h-1zM1111 172h1v1h-1zM1114 172h1v1h-1zM1117 172h1v1h-1zM1120 172h1v1h-1zM1123 172h1v1h-1zM1126 172h1v1h-1zM1129 172h1v1h-1zM1132 172h1v1h-1zM1135 172h1v1h-1zM1138 172h1v1h-1zM1141 172h1v1h-1zM1144 172h1v1h-1zM1147 172h1v1h-1zM1150 172h1v1h-1zM1153 172h1v1h-1zM1156 172h1v1h-1zM1159 172h1v1h-1zM1162 172h1v1h-1zM1165 172h1v1h-1zM1168 172h1v1h-1zM1171 172h1v1h-1zM1174 172h1v1h-1zM1177 172h1v1h-1zM1180 172h1v1h-1zM1183 172h1v1h-1zM1186 172h1v1h-1zM1189 172h1v1h-1zM1192 172h1v1h-1zM1195 172h1v1h-1zM1198 172h1v1h-1zM1201 172h1v1h-1zM1204 172h1v1h-1zM1207 172h1v1h-1zM1210 172h1v1h-1zM1213 172h1v1h-1zM1216 172h1v1h-1zM1219 172h1v1h-1zM1222 172h1v1h-1zM1225 172h1v1h-1zM1228 172h1v1h-1zM1231 172h1v1h-1zM1234 172h1v1h-1zM1237 172h1v1h-1zM1240 172h1v1h-1zM1243 172h1v1h-1zM1246 172h1v1h-1zM1249 172h1v1h-1zM1252 172h1v1h-1zM1255 172h1v1h-1zM1258 172h1v1h-1zM1261 172h1v1h-1zM1264 172h1v1h-1zM1267 172h1v1h-1zM1270 172h1v1h-1zM1273 172h1v1h-1zM1276 172h1v1h-1zM1279 172h1v1h-1zM1282 172h1v1h-1zM1285 172h1v1h-1zM1288 172h1v1h-1zM1291 172h1v1h-1zM1294 172h1v1h-1zM1297 172h1v1h-1zM1300 172h1v1h-1zM1303 172h1v1h-1zM1306 172h1v1h-1zM1309 172h1v1h-1zM1312 172h1v1h-1zM1315 172h1v1h-1zM1318 172h1v1h-1zM1321 172h1v1h-1zM1324 172h1v1h-1zM1327 172h1v1h-1zM1330 172h1v1h-1zM1333 172h1v1h-1zM1336 172h1v1h-1zM1339 172h1v1h-1zM1342 172h1v1h-1z"/>
<rect x="13" y="172" width="1" height="1" fill-opacity="0.5"/>
</g>
<g filter="url(#ga)"><text x="1354" y="71.8" fill="#b5b5b5" stroke="#b5b5b5" textLength="59" lengthAdjust="spacingAndGlyphs" style="stroke-width:0.2px;font-size:15.4px">4,600.00</text></g>
<g filter="url(#ga)"><text x="1354" y="112.0" fill="#b5b5b5" stroke="#b5b5b5" textLength="59" lengthAdjust="spacingAndGlyphs" style="stroke-width:0.2px;font-size:15.4px">4,560.00</text></g>
<g filter="url(#ga)"><text x="1354" y="152.2" fill="#b5b5b5" stroke="#b5b5b5" textLength="59" lengthAdjust="spacingAndGlyphs" style="stroke-width:0.2px;font-size:15.4px">4,520.00</text></g>
<g filter="url(#ga)"><text x="1354" y="192.4" fill="#b5b5b5" stroke="#b5b5b5" textLength="59" lengthAdjust="spacingAndGlyphs" style="stroke-width:0.2px;font-size:15.4px">4,480.00</text></g>
<g filter="url(#ga)"><text x="1354" y="232.6" fill="#b5b5b5" stroke="#b5b5b5" textLength="59" lengthAdjust="spacingAndGlyphs" style="stroke-width:0.2px;font-size:15.4px">4,440.00</text></g>
<g filter="url(#ga)"><text x="1354" y="272.8" fill="#b5b5b5" stroke="#b5b5b5" textLength="59" lengthAdjust="spacingAndGlyphs" style="stroke-width:0.2px;font-size:15.4px">4,400.00</text></g>
<g filter="url(#ga)"><text x="1354" y="313.0" fill="#b5b5b5" stroke="#b5b5b5" textLength="59" lengthAdjust="spacingAndGlyphs" style="stroke-width:0.2px;font-size:15.4px">4,360.00</text></g>
<g filter="url(#ga)"><text x="1354" y="353.2" fill="#b5b5b5" stroke="#b5b5b5" textLength="59" lengthAdjust="spacingAndGlyphs" style="stroke-width:0.2px;font-size:15.4px">4,320.00</text></g>
<g filter="url(#ga)"><text x="1354" y="393.4" fill="#b5b5b5" stroke="#b5b5b5" textLength="59" lengthAdjust="spacingAndGlyphs" style="stroke-width:0.2px;font-size:15.4px">4,280.00</text></g>
<g filter="url(#ga)"><text x="1354" y="433.6" fill="#b5b5b5" stroke="#b5b5b5" textLength="59" lengthAdjust="spacingAndGlyphs" style="stroke-width:0.2px;font-size:15.4px">4,240.00</text></g>
<g filter="url(#ga)"><text x="1354" y="473.8" fill="#b5b5b5" stroke="#b5b5b5" textLength="59" lengthAdjust="spacingAndGlyphs" style="stroke-width:0.2px;font-size:15.4px">4,200.00</text></g>
<g filter="url(#ga)"><text x="1354" y="514.0" fill="#b5b5b5" stroke="#b5b5b5" textLength="59" lengthAdjust="spacingAndGlyphs" style="stroke-width:0.2px;font-size:15.4px">4,160.00</text></g>
<g filter="url(#ga)"><text x="1354" y="554.2" fill="#b5b5b5" stroke="#b5b5b5" textLength="59" lengthAdjust="spacingAndGlyphs" style="stroke-width:0.2px;font-size:15.4px">4,120.00</text></g>
<g filter="url(#ga)"><text x="1354" y="594.4" fill="#b5b5b5" stroke="#b5b5b5" textLength="59" lengthAdjust="spacingAndGlyphs" style="stroke-width:0.2px;font-size:15.4px">4,080.00</text></g>
<g filter="url(#ga)"><text x="1354" y="634.6" fill="#b5b5b5" stroke="#b5b5b5" textLength="59" lengthAdjust="spacingAndGlyphs" style="stroke-width:0.2px;font-size:15.4px">4,040.00</text></g>
<g filter="url(#ga)"><text x="1354" y="674.8" fill="#b5b5b5" stroke="#b5b5b5" textLength="59" lengthAdjust="spacingAndGlyphs" style="stroke-width:0.2px;font-size:15.4px">4,000.00</text></g>
<g filter="url(#ga)"><text x="1354" y="715.0" fill="#b5b5b5" stroke="#b5b5b5" textLength="59" lengthAdjust="spacingAndGlyphs" style="stroke-width:0.2px;font-size:15.4px">3,960.00</text></g>
<g filter="url(#ga)"><text x="1354" y="755.2" fill="#b5b5b5" stroke="#b5b5b5" textLength="59" lengthAdjust="spacingAndGlyphs" style="stroke-width:0.2px;font-size:15.4px">3,920.00</text></g>
<g filter="url(#ga)"><text x="25.7" y="781" fill="#b5b5b5" stroke="#b5b5b5" textLength="15.8" lengthAdjust="spacingAndGlyphs" style="font-size:15.4px;stroke-width:0.2px">28</text></g>
<g filter="url(#ga)"><text x="115.4" y="781" fill="#b5b5b5" stroke="#b5b5b5" textLength="36.4" lengthAdjust="spacingAndGlyphs" style="font-size:15.4px;stroke-width:0.2px">12:00</text></g>
<g filter="url(#ga)"><text x="226.7" y="781" fill="#b5b5b5" stroke="#b5b5b5" textLength="15.8" lengthAdjust="spacingAndGlyphs" style="font-size:15.4px;stroke-width:0.2px">29</text></g>
<g filter="url(#ga)"><text x="316.4" y="781" fill="#b5b5b5" stroke="#b5b5b5" textLength="36.4" lengthAdjust="spacingAndGlyphs" style="font-size:15.4px;stroke-width:0.2px">12:00</text></g>
<g filter="url(#ga)"><text x="427.7" y="781" fill="#b5b5b5" stroke="#b5b5b5" textLength="15.8" lengthAdjust="spacingAndGlyphs" style="font-size:15.4px;stroke-width:0.2px">30</text></g>
<g filter="url(#ga)"><text x="517.4" y="781" fill="#b5b5b5" stroke="#b5b5b5" textLength="36.4" lengthAdjust="spacingAndGlyphs" style="font-size:15.4px;stroke-width:0.2px">12:00</text></g>
<g filter="url(#ga)"><text x="623.9" y="781" fill="#cccccc" stroke="#cccccc" font-weight="bold" textLength="24.3" lengthAdjust="spacingAndGlyphs" style="stroke-width:0">Oct</text></g>
<g filter="url(#ga)"><text x="718.4" y="781" fill="#b5b5b5" stroke="#b5b5b5" textLength="36.4" lengthAdjust="spacingAndGlyphs" style="font-size:15.4px;stroke-width:0.2px">12:00</text></g>
<g filter="url(#ga)"><text x="833.8" y="781" fill="#b5b5b5" stroke="#b5b5b5" textLength="7.6" lengthAdjust="spacingAndGlyphs" style="font-size:15.4px;stroke-width:0.2px">2</text></g>
<g filter="url(#ga)"><text x="919.4" y="781" fill="#b5b5b5" stroke="#b5b5b5" textLength="36.4" lengthAdjust="spacingAndGlyphs" style="font-size:15.4px;stroke-width:0.2px">12:00</text></g>
<g filter="url(#ga)"><text x="1034.8" y="781" fill="#b5b5b5" stroke="#b5b5b5" textLength="7.6" lengthAdjust="spacingAndGlyphs" style="font-size:15.4px;stroke-width:0.2px">3</text></g>
<g filter="url(#ga)"><text x="1120.4" y="781" fill="#b5b5b5" stroke="#b5b5b5" textLength="36.4" lengthAdjust="spacingAndGlyphs" style="font-size:15.4px;stroke-width:0.2px">12:00</text></g>
<g filter="url(#ga)"><text x="1235.8" y="781" fill="#b5b5b5" stroke="#b5b5b5" textLength="7.6" lengthAdjust="spacingAndGlyphs" style="font-size:15.4px;stroke-width:0.2px">4</text></g>
<clipPath id="cl"><rect x="1300" y="760" width="43" height="30"/></clipPath>
<g filter="url(#ga)"><text x="1321.4" y="781" fill="#b5b5b5" stroke="#b5b5b5" textLength="36.4" lengthAdjust="spacingAndGlyphs" style="font-size:15.4px;stroke-width:0.2px" clip-path="url(#cl)">12:00</text></g>
<path d="M1344 737h38a2 2 0 0 1 2 2v17a2 2 0 0 1 -2 2h-38z" fill="#ef5350"/>
<g filter="url(#ga)"><text x="1355.3" y="753.3" fill="#ffffff" stroke="#ffffff" textLength="23.2" lengthAdjust="spacingAndGlyphs" style="font-size:15.4px">320</text></g>
<path d="M1344 162h73a2 2 0 0 1 2 2v35a2 2 0 0 1 -2 2h-73z" fill="#f23645"/>
<g filter="url(#ga)"><text x="1354.5" y="177" fill="#ffffff" stroke="#ffffff" textLength="59.3" lengthAdjust="spacingAndGlyphs" style="font-size:15.4px">4,495.58</text></g>
<g filter="url(#ga)"><text x="1355" y="194.8" fill="#ffffff" stroke="#ffffff" fill-opacity="0.8" stroke-opacity="0.8" textLength="36.8" lengthAdjust="spacingAndGlyphs" style="font-size:15.4px">18:33</text></g>
<g filter="url(#ga)"><text x="13.1" y="25" fill="#d8d8d8" stroke="#d8d8d8" textLength="52.6" lengthAdjust="spacingAndGlyphs" style="font-size:15.0px">Created</text></g>
<g filter="url(#ga)"><text x="70.8" y="25" fill="#d8d8d8" stroke="#d8d8d8" textLength="29.1" lengthAdjust="spacingAndGlyphs" style="font-size:15.0px">with</text></g>
<g filter="url(#ga)"><text x="105.2" y="25" fill="#d8d8d8" stroke="#d8d8d8" textLength="117.1" lengthAdjust="spacingAndGlyphs" style="font-size:15.0px">TradingView.com,</text></g>
<g filter="url(#ga)"><text x="228.7" y="25" fill="#d8d8d8" stroke="#d8d8d8" textLength="22.4" lengthAdjust="spacingAndGlyphs" style="font-size:15.0px">Oct</text></g>
<g filter="url(#ga)"><text x="256.5" y="25" fill="#d8d8d8" stroke="#d8d8d8" textLength="19.1" lengthAdjust="spacingAndGlyphs" style="font-size:15.4px">03,</text></g>
<g filter="url(#ga)"><text x="281.7" y="25" fill="#d8d8d8" stroke="#d8d8d8" textLength="30.6" lengthAdjust="spacingAndGlyphs" style="font-size:15.4px">2025</text></g>
<g filter="url(#ga)"><text x="317.7" y="25" fill="#d8d8d8" stroke="#d8d8d8" textLength="35.2" lengthAdjust="spacingAndGlyphs" style="font-size:15.4px">04:41</text></g>
<g filter="url(#ga)"><text x="359.8" y="25" fill="#d8d8d8" stroke="#d8d8d8" textLength="26.0" lengthAdjust="spacingAndGlyphs" style="font-size:15.0px">UTC</text></g>
<g filter="url(#ga)"><text x="23.3" y="58.7" fill="#c6c6c6" stroke="#c6c6c6" textLength="64.3" lengthAdjust="spacingAndGlyphs">Ethereum</text></g>
<g filter="url(#ga)"><text x="93.9" y="58.7" fill="#c6c6c6" stroke="#c6c6c6">/</text></g>
<g filter="url(#ga)"><text x="105.1" y="58.7" fill="#c6c6c6" stroke="#c6c6c6" textLength="26.3" lengthAdjust="spacingAndGlyphs">U.S.</text></g>
<g filter="url(#ga)"><text x="137.7" y="58.7" fill="#c6c6c6" stroke="#c6c6c6" textLength="38.8" lengthAdjust="spacingAndGlyphs">Dollar</text></g>
<rect x="182.90" y="52.95" width="2.3" height="2.3" fill="#c6c6c6"/>
<g filter="url(#ga)"><text x="192.3" y="58.7" fill="#c6c6c6" stroke="#c6c6c6" textLength="15.5" lengthAdjust="spacingAndGlyphs">1h</text></g>
<rect x="214.10" y="52.95" width="2.3" height="2.3" fill="#c6c6c6"/>
<g filter="url(#ga)"><text x="222.8" y="58.7" fill="#c6c6c6" stroke="#c6c6c6" textLength="51.8" lengthAdjust="spacingAndGlyphs">Binance</text></g>
<g filter="url(#ga)"><text x="284.2" y="58.7" fill="#c6c6c6" stroke="#c6c6c6" textLength="9.7" lengthAdjust="spacingAndGlyphs">O</text></g>
<g filter="url(#ga)"><text x="294.5" y="58.7" fill="#f23645" stroke="#f23645" textLength="57.5" lengthAdjust="spacingAndGlyphs" style="font-size:15.4px;stroke-width:0.1px">4,503.26</text></g>
<g filter="url(#ga)"><text x="362.2" y="58.7" fill="#c6c6c6" stroke="#c6c6c6" textLength="8.4" lengthAdjust="spacingAndGlyphs">H</text></g>
<g filter="url(#ga)"><text x="371.0" y="58.7" fill="#f23645" stroke="#f23645" textLength="58.0" lengthAdjust="spacingAndGlyphs" style="font-size:15.4px;stroke-width:0.1px">4,512.46</text></g>
<g filter="url(#ga)"><text x="439.6" y="58.7" fill="#c6c6c6" stroke="#c6c6c6" textLength="5.8" lengthAdjust="spacingAndGlyphs">L</text></g>
<g filter="url(#ga)"><text x="445.6" y="58.7" fill="#f23645" stroke="#f23645" textLength="58.4" lengthAdjust="spacingAndGlyphs" style="font-size:15.4px;stroke-width:0.1px">4,494.99</text></g>
<g filter="url(#ga)"><text x="513.5" y="58.7" fill="#c6c6c6" stroke="#c6c6c6" textLength="8.2" lengthAdjust="spacingAndGlyphs">C</text></g>
<g filter="url(#ga)"><text x="522.0" y="58.7" fill="#f23645" stroke="#f23645" textLength="58.5" lengthAdjust="spacingAndGlyphs" style="font-size:15.4px;stroke-width:0.1px">4,495.58</text></g>
<g filter="url(#ga)"><text x="590.2" y="58.7" fill="#f23645" stroke="#f23645" textLength="36.2" lengthAdjust="spacingAndGlyphs" style="font-size:15.4px;stroke-width:0.1px">−7.45</text></g>
<g filter="url(#ga)"><text x="631.5" y="58.7" fill="#f23645" stroke="#f23645" textLength="56.1" lengthAdjust="spacingAndGlyphs" style="font-size:15.4px;stroke-width:0.1px">(−0.17%)</text></g>
<g filter="url(#ga)"><text x="23.0" y="79.7" fill="#c6c6c6" stroke="#c6c6c6" textLength="19.5" lengthAdjust="spacingAndGlyphs">Vol</text></g>
<rect x="49.25" y="73.95" width="2.3" height="2.3" fill="#c6c6c6"/>
<g filter="url(#ga)"><text x="58.3" y="79.7" fill="#c6c6c6" stroke="#c6c6c6" textLength="25.6" lengthAdjust="spacingAndGlyphs">ETH</text></g>
<g filter="url(#ga)"><text x="93.7" y="79.7" fill="#ef5350" stroke="#ef5350" textLength="23.6" lengthAdjust="spacingAndGlyphs" style="font-size:15.4px;stroke-width:0.1px">320</text></g>
<circle cx="1071.9" cy="741.4" r="12.1" fill="#0f0f0f" stroke="#b54fcb" stroke-width="2"/>
<path d="M1076.0 734.9L1065.2 742.7L1071.6 742.3L1067.5 748.5L1078.1 740.3L1072.4 740.7Z" fill="#b54fcb" stroke="#b54fcb" stroke-width="0.45" stroke-linejoin="round"/>
<path d="M1058.40 739.25C1059.60 743.25 1061.10 744.75 1065.10 745.95C1061.10 747.15 1059.60 748.65 1058.40 752.65C1057.20 748.65 1055.70 747.15 1051.70 745.95C1055.70 744.75 1057.20 743.25 1058.40 739.25Z" fill="#7a4dfc" stroke="#0f0f0f" stroke-width="2.2" paint-order="stroke" stroke-linejoin="round"/>
<circle cx="1155.3" cy="741.5" r="12.7" fill="#0f0f0f" stroke="#f23645" stroke-width="2.3"/>
<clipPath id="f2"><circle cx="1155.3" cy="741.9" r="10.1"/></clipPath>
<g clip-path="url(#f2)">
<rect x="1143.3" y="731.80" width="24" height="4.1" fill="#ec514c"/>
<rect x="1143.3" y="735.84" width="24" height="4.1" fill="#f5f5f5"/>
<rect x="1143.3" y="739.88" width="24" height="4.1" fill="#ec514c"/>
<rect x="1143.3" y="743.92" width="24" height="4.1" fill="#f5f5f5"/>
<rect x="1143.3" y="747.96" width="24" height="4.1" fill="#ec514c"/>
<rect x="1143.3" y="731.80" width="14.2" height="12.1" fill="#2885e6"/>
<rect x="1148.1" y="734.0" width="1.1" height="1.1" fill="#e8f0ff"/>
<rect x="1151.4" y="734.0" width="1.1" height="1.1" fill="#e8f0ff"/>
<rect x="1154.7" y="734.0" width="1.1" height="1.1" fill="#e8f0ff"/>
<rect x="1148.1" y="737.5" width="1.1" height="1.1" fill="#e8f0ff"/>
<rect x="1151.4" y="737.5" width="1.1" height="1.1" fill="#e8f0ff"/>
<rect x="1154.7" y="737.5" width="1.1" height="1.1" fill="#e8f0ff"/>
<rect x="1148.1" y="741.0" width="1.1" height="1.1" fill="#e8f0ff"/>
<rect x="1151.4" y="741.0" width="1.1" height="1.1" fill="#e8f0ff"/>
<rect x="1154.7" y="741.0" width="1.1" height="1.1" fill="#e8f0ff"/>
</g>
<circle cx="1137.9" cy="741.5" r="12.7" fill="#0f0f0f" stroke="#f23645" stroke-width="2.3"/>
<clipPath id="f1"><circle cx="1137.9" cy="741.9" r="10.1"/></clipPath>
<g clip-path="url(#f1)">
<rect x="1125.9" y="731.80" width="24" height="4.1" fill="#ec514c"/>
<rect x="1125.9" y="735.84" width="24" height="4.1" fill="#f5f5f5"/>
<rect x="1125.9" y="739.88" width="24" height="4.1" fill="#ec514c"/>
<rect x="1125.9" y="743.92" width="24" height="4.1" fill="#f5f5f5"/>
<rect x="1125.9" y="747.96" width="24" height="4.1" fill="#ec514c"/>
<rect x="1125.9" y="731.80" width="14.2" height="12.1" fill="#2885e6"/>
<rect x="1130.7" y="734.0" width="1.1" height="1.1" fill="#e8f0ff"/>
<rect x="1134.0" y="734.0" width="1.1" height="1.1" fill="#e8f0ff"/>
<rect x="1137.3" y="734.0" width="1.1" height="1.1" fill="#e8f0ff"/>
<rect x="1130.7" y="737.5" width="1.1" height="1.1" fill="#e8f0ff"/>
<rect x="1134.0" y="737.5" width="1.1" height="1.1" fill="#e8f0ff"/>
<rect x="1137.3" y="737.5" width="1.1" height="1.1" fill="#e8f0ff"/>
<rect x="1130.7" y="741.0" width="1.1" height="1.1" fill="#e8f0ff"/>
<rect x="1134.0" y="741.0" width="1.1" height="1.1" fill="#e8f0ff"/>
<rect x="1137.3" y="741.0" width="1.1" height="1.1" fill="#e8f0ff"/>
</g>
<path d="M15.2 820.3H30.9V839.1H22.9V827.9H15.2Z" fill="#d9d9d9"/>
<circle cx="36.9" cy="824.2" r="3.85" fill="#d9d9d9"/>
<path d="M44.1 820.3H53.1L46.2 839.1H36.8Z" fill="#d9d9d9"/>
<g fill="none" stroke="#d9d9d9" stroke-width="3.7">
<path d="M61.9 822.05H75.9M68.9 820.20V839.10"/>
<path d="M77.5 839.10V825.30M77.5 833Q77.7 827.3 83.6 827.1"/>
<ellipse cx="91.4" cy="832.20" rx="5.20" ry="5.55"/><path d="M96.1 825.30V839.10"/>
<ellipse cx="107.5" cy="832.20" rx="5.20" ry="5.55"/><path d="M112.75 820.20V839.10"/>
<path d="M118.9 825.30V839.10"/>
<path d="M124.95 839.10V825.30M124.95 831.6A4.55 4.85 0 0 1 134.05 831.6V839.10"/>
<ellipse cx="145.35" cy="832.20" rx="5.20" ry="5.55"/><path d="M150.5 825.30V838.2A5.2 4.8 0 0 1 140.4 841.4"/>
<path d="M174.05 825.30V839.10"/>
<path d="M190.45 832.30A5.2 5.55 0 1 0 189.40 835.54"/>
<path d="M180.3 832.3H191.2" stroke-width="3.1"/>
</g>
<circle cx="118.9" cy="822.1" r="2.1" fill="#d9d9d9"/><circle cx="174.05" cy="822.0" r="2.15" fill="#d9d9d9"/>
<path d="M151.6 820.2H155.7L161.3 834.0L166.9 820.2H171.0L163.3 839.1H159.3Z" fill="#d9d9d9"/>
<clipPath id="wc"><rect x="190" y="825.2" width="26" height="13.9"/></clipPath>
<polyline clip-path="url(#wc)" points="193.66,821.03 197.75,840.60 202.90,823.70 208.05,840.60 212.14,821.03" fill="none" stroke="#d9d9d9" stroke-width="3.75" stroke-linejoin="miter" stroke-miterlimit="10"/>
</svg></body></html>
